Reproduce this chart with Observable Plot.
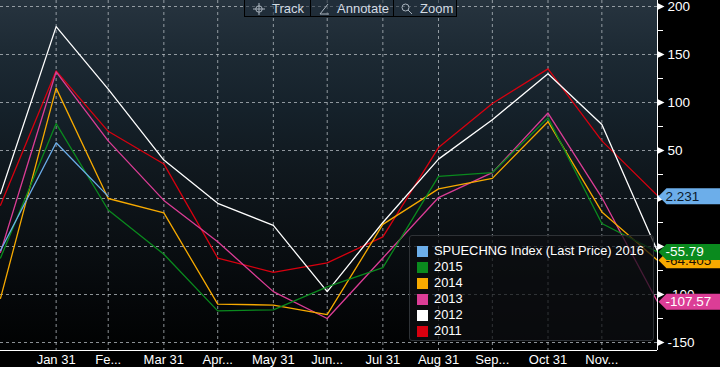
<!DOCTYPE html>
<html><head><meta charset="utf-8">
<script src="https://cdn.jsdelivr.net/npm/d3@7"></script>
<script src="https://cdn.jsdelivr.net/npm/@observablehq/plot@0.6"></script>
<style>
html,body{margin:0;padding:0;background:#000;}
#wrap{position:relative;width:720px;height:367px;overflow:hidden;background:#000;font-family:"Liberation Sans",Arial,sans-serif;}
#panel{position:absolute;left:0;top:0;width:657px;height:350px;
 background:linear-gradient(to bottom,#27343f 0px,#1d2a34 50px,#15212a 110px,#10181e 170px,#0a0f13 240px,#040608 310px,#010202 350px);}
#chart{position:absolute;left:0;top:0;}
#legend{position:absolute;left:409px;top:235px;width:245px;height:106px;box-sizing:border-box;
 background:rgba(12,14,16,0.72);border:1px solid #2e3236;border-radius:3px;padding:7px 0 0 7px;}
.row{height:16px;line-height:16px;color:#fff;font-size:12.9px;white-space:nowrap;display:flex;align-items:center;}
.sw{width:11px;height:11px;margin-right:6px;flex:none;}
#toolbar{position:absolute;left:244px;top:-1px;width:213px;height:18px;box-sizing:border-box;border:1px solid #000;
 background:rgba(30,42,54,0.55);color:#d3dbe3;font-size:13px;}
#toolbar .it{position:absolute;top:1px;line-height:15px;}
#toolbar .sep{position:absolute;top:0;width:1px;height:17px;background:#000;}
#toolbar svg{position:absolute;top:3px;}
</style></head>
<body><div id="wrap"><div id="panel"></div><div id="chart"></div><div id="legend"></div>
<div id="toolbar">
 <svg style="left:8px" width="12" height="12" viewBox="0 0 12 12"><circle cx="6" cy="6" r="3.2" fill="none" stroke="#aab4be"/><path d="M6 0v12M0 6h12" stroke="#aab4be"/></svg>
 <span class="it" style="left:27px">Track</span>
 <span class="sep" style="left:65px"></span>
 <svg style="left:73px" width="12" height="12" viewBox="0 0 12 12"><path d="M2 11L10 1M2 11h9" stroke="#aab4be" fill="none"/></svg>
 <span class="it" style="left:92px">Annotate</span>
 <span class="sep" style="left:148px"></span>
 <svg style="left:156px" width="12" height="12" viewBox="0 0 12 12"><circle cx="4.5" cy="4.5" r="3.5" fill="none" stroke="#aab4be"/><path d="M7 7l4 4" stroke="#aab4be"/></svg>
 <span class="it" style="left:175px">Zoom</span>
</div>
</div>
<script>
// ---- data ----
const dates = ["2015-12-31","2016-01-31","2016-02-29","2016-03-31","2016-04-30","2016-05-31","2016-06-30",
               "2016-07-31","2016-08-31","2016-09-30","2016-10-31","2016-11-30","2016-12-31"];
const seriesNames = ["SPUECHNG Index (Last Price) 2016","2015","2014","2013","2012","2011"];
const seriesColors = ["#6caeea","#0a8a1e","#f7aa00","#dc3d96","#ffffff","#d8000f"];
const v2016 = [-54, 58, 2.231];
const v2015 = [-62, 78, -12, -58, -117, -116, -92, -72, 23, 27, 84, -26, -55.79];
const v2014 = [-104, 115, 0, -15, -110, -111, -121, -27, 10, 21, 80, -14, -64.405];
const v2013 = [-56, 132, 60, -2, -45, -97, -125, -62, 1, 27, 89, 1, -107.57];
const v2012 = [5, 179, 114, 40, -5, -28, -97, -25, 41, 82, 130, 77, -55];
const v2011 = [-7, 133, 70, 36, -62, -77, -67, -40, 53, 99, 135, 60, 3];
const xTickDates = ["2016-01-31","2016-02-29","2016-03-31","2016-04-30","2016-05-31","2016-06-30",
                    "2016-07-31","2016-08-31","2016-09-30","2016-10-31","2016-11-30"];
const xTickLabels = ["Jan 31","Fe...","Mar 31","Apr...","May 31","Jun...","Jul 31","Aug 31","Sep...","Oct 31","Nov..."];
const yMajor = [-150,-100,-50,0,50,100,150,200];
const yLabeled = [-150,-100,50,100,150,200]; // 0 and -50 are covered by value tags
const yMinor = [-125,-75,-25,25,75,125,175];
const yDomain = [-158.33, 206.25];
// value tags on right axis: series index and text colour
const tagSeries = [0, 2, 1, 3];
const tagTextColors = ["#0b1a2c","#1a1000","#ffffff","#ffffff"];

// ---- build ----
const allValues = [v2016, v2015, v2014, v2013, v2012, v2011];
const parse = s => new Date(s);
const xDomain = [parse(dates[0]), parse(dates[dates.length-1])];
const endDate = xDomain[1];
const tickDates = xTickDates.map(parse);
const labelMap = new Map(tickDates.map((d,i)=>[+d, xTickLabels[i]]));
const font = '"Liberation Sans", Arial, sans-serif';

const lineMarks = [];
for (let s = allValues.length - 1; s >= 0; s--) {
  const rows = allValues[s].map((v,i)=>({date: parse(dates[i]), value: v}));
  lineMarks.push(Plot.line(rows, {x:"date", y:"value", stroke: seriesColors[s], strokeWidth:1.3, clip:true}));
}

const tagShape = {draw(ctx){ ctx.moveTo(0,0); ctx.lineTo(8,-8); ctx.lineTo(62,-8); ctx.lineTo(62,8); ctx.lineTo(8,8); ctx.closePath(); }};
const triShape = {draw(ctx){ ctx.moveTo(0,-3.5); ctx.lineTo(7,0); ctx.lineTo(0,3.5); ctx.closePath(); }};

const tagMarks = [];
tagSeries.forEach((s,k)=>{
  const arr = allValues[s];
  const last = arr[arr.length-1];
  const d = [{date:endDate, value:last, label:String(last)}];
  tagMarks.push(Plot.dot(d, {x:"date", y:"value", symbol: tagShape, r:5, dx:1, fill: seriesColors[s], stroke:"none"}));
  tagMarks.push(Plot.text(d, {x:"date", y:"value", text:"label", dx:8, textAnchor:"start", fontSize:13.5, fill: tagTextColors[k], fontFamily: font}));
});

const chart = Plot.plot({
  width: 720, height: 367,
  marginLeft: 0, marginRight: 63, marginTop: 0, marginBottom: 17,
  style: {background:"transparent", color:"white", fontFamily: font},
  x: {type:"utc", domain: xDomain, label: null},
  y: {domain: yDomain, label: null},
  marks: [
    Plot.ruleY(yMajor, {stroke:"#b9c0c6", strokeOpacity:0.75, strokeDasharray:"3,3"}),
    Plot.ruleX(tickDates, {stroke:"#b9c0c6", strokeOpacity:0.75, strokeDasharray:"3,3"}),
    ...lineMarks,
    Plot.ruleX([endDate], {stroke:"white", strokeWidth:1}),
    Plot.ruleY([yDomain[0]], {stroke:"white", strokeWidth:1}),
    Plot.axisY({anchor:"right", ticks: yMinor, tickSize:5, tickFormat: () => "", stroke:"white", label:null}),
    Plot.dot(yMajor, {x: () => endDate, y: d => d, symbol: triShape, r:4, fill:"white", stroke:"none"}),
    Plot.axisY({anchor:"right", ticks: yLabeled, tickSize:0, tickPadding:10, fontSize:13.5, tickFormat: d => String(d), fill:"white", label:null}),
    Plot.axisX({ticks: tickDates, tickSize:0, tickPadding:4, fontSize:13, tickFormat: d => labelMap.get(+d), fill:"white", label:null}),
    ...tagMarks
  ]
});
document.getElementById("chart").appendChild(chart);

// legend
const leg = document.getElementById("legend");
seriesNames.forEach((n,i)=>{
  const r = document.createElement("div"); r.className = "row";
  const sw = document.createElement("span"); sw.className = "sw"; sw.style.background = seriesColors[i];
  r.appendChild(sw); r.appendChild(document.createTextNode(n)); leg.appendChild(r);
});
</script>
</body></html>
